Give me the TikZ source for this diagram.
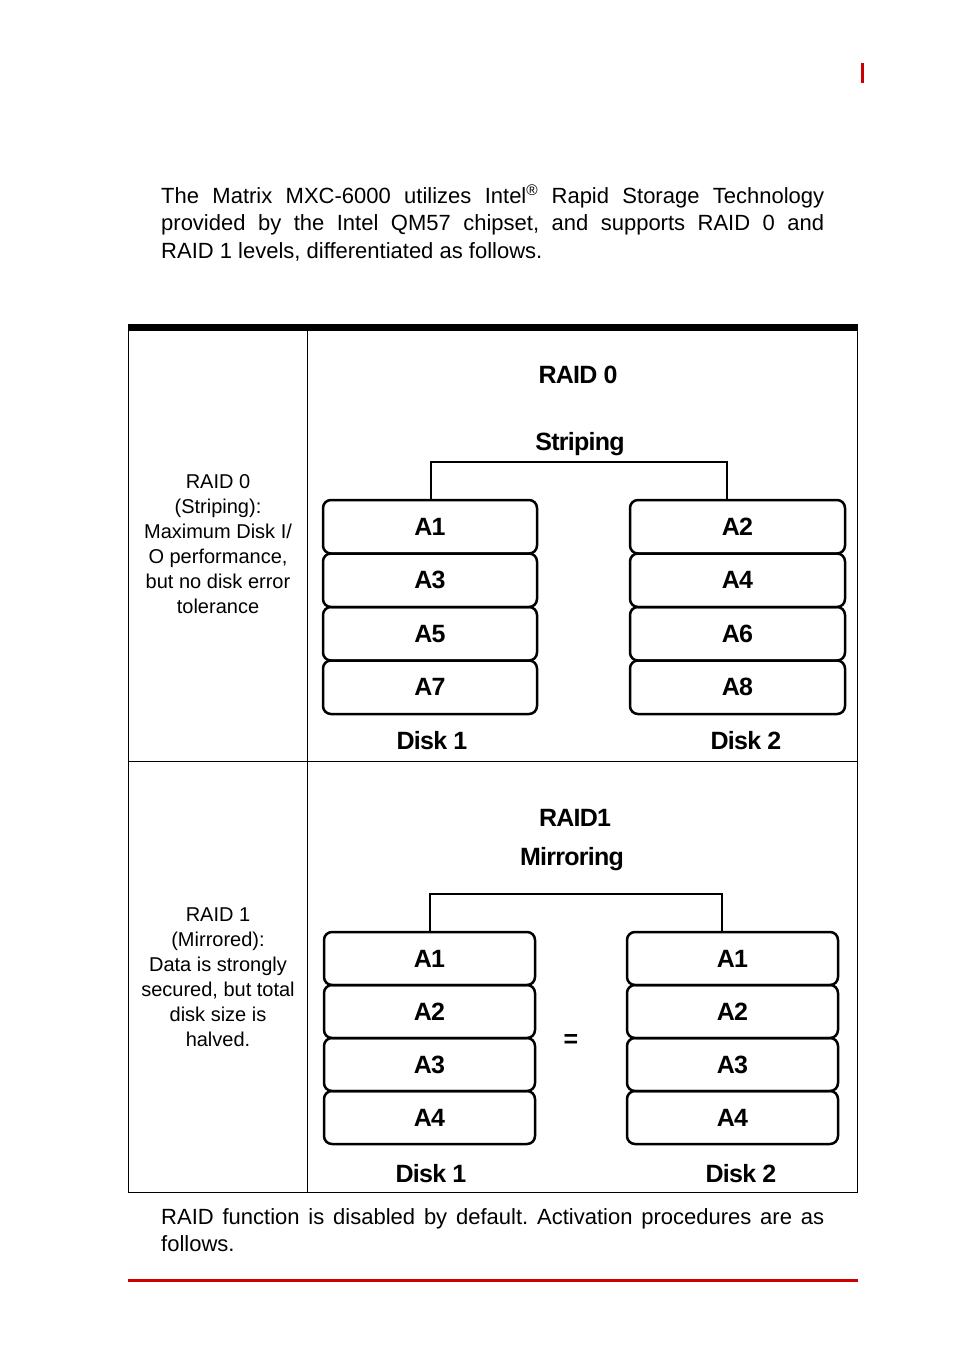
\documentclass[tikz,border=0pt]{standalone}
\usepackage{fontspec}
\setmainfont{Liberation Sans}
\definecolor{adred}{RGB}{204,0,0}
\frenchspacing
\newcommand{\boldlab}{\bfseries\fontsize{25}{25}\selectfont\addfontfeatures{LetterSpace=-3.0}}
\begin{document}
\begin{tikzpicture}[x=1pt,y=-1pt,
  cell0/.style={draw,line width=2.5pt,rounded corners=8pt,inner sep=0pt,minimum height=53.5pt,font=\boldlab},
  cell1/.style={draw,line width=2.5pt,rounded corners=8pt,inner sep=0pt,minimum height=53pt,font=\boldlab},
  head/.style={inner sep=0pt,anchor=base,font=\boldlab},
  side/.style={inner sep=0pt,anchor=base},
  para/.style={inner sep=0pt,anchor=base west},
  bracket/.style={line width=2pt},
  rule/.style={line width=1pt}]
\useasboundingbox (0,0) rectangle (954,1352);
% header mark
\draw[adred,line width=2.5pt] (862.5,63) -- (862.5,83);
% intro paragraph
\node[para] (intro) at (161,203) {\parbox[t]{663pt}{\frenchspacing\hyphenpenalty=10000\fontsize{22}{27.5}\selectfont The Matrix MXC-6000 utilizes Intel\textsuperscript{®} Rapid Storage Technology\linebreak provided by the Intel QM57 chipset, and supports RAID 0 and\linebreak RAID 1 levels, differentiated as follows.}};
% table
\fill (127.5,324) rectangle (857.5,331);
\draw[rule] (128,330) rectangle (857,1192);
\draw[rule] (307,330) -- (307,1192);
\draw[rule] (128,761) -- (857,761);
% left column
\node[side] (r0desc) at (218,488) {\parbox[t]{175pt}{\centering\fontsize{20}{25}\selectfont RAID 0\\(Striping):\\Maximum Disk I/\\O performance,\\but no disk error\\tolerance}};
\node[side] (r1desc) at (218,921) {\parbox[t]{175pt}{\centering\fontsize{20}{25}\selectfont RAID 1\\(Mirrored):\\Data is strongly\\secured, but total\\disk size is\\halved.}};
% RAID 0 panel
\node[head] (r0title) at (578,383) {RAID 0};
\node[head] (r0sub) at (580,450) {Striping};
\node[cell0,minimum width=214pt] (r0a1) at (430,526.75) {A1};
\node[cell0,minimum width=214pt] (r0a3) at (430,580.25) {A3};
\node[cell0,minimum width=214pt] (r0a5) at (430,633.75) {A5};
\node[cell0,minimum width=214pt] (r0a7) at (430,687.25) {A7};
\node[cell0,minimum width=215pt] (r0a2) at (737.5,526.75) {A2};
\node[cell0,minimum width=215pt] (r0a4) at (737.5,580.25) {A4};
\node[cell0,minimum width=215pt] (r0a6) at (737.5,633.75) {A6};
\node[cell0,minimum width=215pt] (r0a8) at (737.5,687.25) {A8};
\coordinate (r0L) at (431,462);
\coordinate (r0R) at (727,462);
\draw[bracket] (r0a1.north -| r0L) -- (r0L) -- (r0R) -- (r0a2.north -| r0R);
\node[head] (r0disk1) at (432,749) {Disk 1};
\node[head] (r0disk2) at (746,749) {Disk 2};
% RAID 1 panel
\node[head] (r1title) at (575,826) {RAID1};
\node[head] (r1sub) at (572,865) {Mirroring};
\node[cell1,minimum width=211pt] (r1l1) at (429.5,958.5) {A1};
\node[cell1,minimum width=211pt] (r1l2) at (429.5,1011.5) {A2};
\node[cell1,minimum width=211pt] (r1l3) at (429.5,1064.5) {A3};
\node[cell1,minimum width=211pt] (r1l4) at (429.5,1117.5) {A4};
\node[cell1,minimum width=211pt] (r1r1) at (732.5,958.5) {A1};
\node[cell1,minimum width=211pt] (r1r2) at (732.5,1011.5) {A2};
\node[cell1,minimum width=211pt] (r1r3) at (732.5,1064.5) {A3};
\node[cell1,minimum width=211pt] (r1r4) at (732.5,1117.5) {A4};
\coordinate (r1L) at (430,894);
\coordinate (r1R) at (722,894);
\draw[bracket] (r1l1.north -| r1L) -- (r1L) -- (r1R) -- (r1r1.north -| r1R);
\node[inner sep=0pt,font=\boldlab] (r1eq) at (571,1041) {=};
\node[head] (r1disk1) at (431,1182) {Disk 1};
\node[head] (r1disk2) at (741,1182) {Disk 2};
% closing paragraph
\node[para] (outro) at (161,1224) {\parbox[t]{663pt}{\frenchspacing\hyphenpenalty=10000\fontsize{22}{27}\selectfont RAID function is disabled by default. Activation procedures are as\linebreak follows.}};
\draw[adred,line width=2.5pt] (128,1280.5) -- (858,1280.5);
\end{tikzpicture}
\end{document}
